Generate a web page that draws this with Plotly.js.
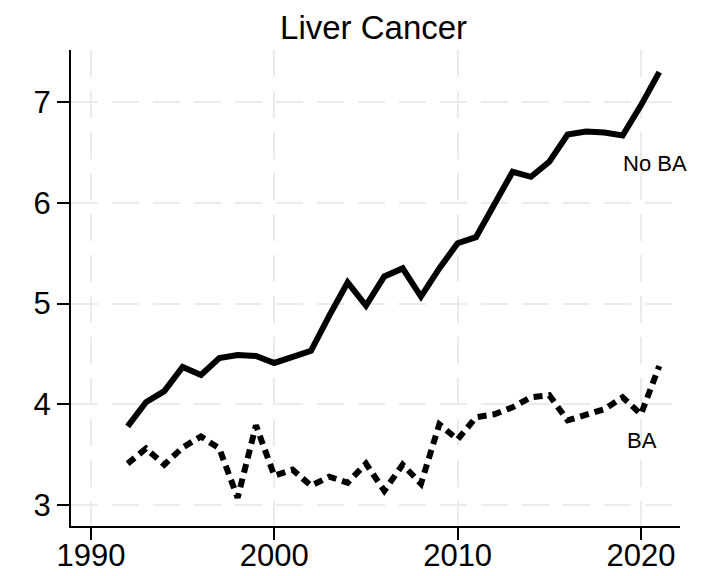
<!DOCTYPE html>
<html>
<head>
<meta charset="utf-8">
<script src="https://cdn.plot.ly/plotly-3.0.1.min.js"></script>
<style>html,body{margin:0;padding:0;background:#fff;}</style>
</head>
<body>
<div id="chart" style="width:724px;height:576px;"></div>
<script>
var years = [1992,1993,1994,1995,1996,1997,1998,1999,2000,2001,2002,2003,2004,2005,2006,2007,2008,2009,2010,2011,2012,2013,2014,2015,2016,2017,2018,2019,2020,2021];
var noBA = [3.78,4.02,4.13,4.37,4.29,4.46,4.49,4.48,4.41,4.47,4.53,4.88,5.21,4.98,5.27,5.35,5.07,5.35,5.60,5.66,5.98,6.31,6.26,6.41,6.68,6.71,6.70,6.67,6.97,7.30];
var ba = [3.41,3.56,3.40,3.57,3.68,3.56,3.07,3.79,3.29,3.35,3.19,3.28,3.22,3.41,3.14,3.40,3.21,3.80,3.65,3.87,3.90,3.97,4.07,4.09,3.84,3.89,3.95,4.07,3.90,4.38];
var xTicks = [1990,2000,2010,2020];
var yTicks = [3,4,5,6,7];
var labelNoBA = "No BA";
var labelBA = "BA";
var titleText = "Liver Cancer";

var fontFam = "Arial, 'Liberation Sans', sans-serif";
var traces = [
  {x: years, y: noBA, type: 'scatter', mode: 'lines', name: labelNoBA,
   line: {color: '#000', width: 6}},
  {x: years, y: ba, type: 'scatter', mode: 'lines', name: labelBA,
   line: {color: '#000', width: 6, dash: '9px,6px'}}
];
var axisCommon = {
  showline: true, linecolor: '#000', linewidth: 2,
  ticks: 'outside', ticklen: 12, tickwidth: 2, tickcolor: '#000',
  showgrid: true, gridcolor: '#ebebeb', gridwidth: 2, griddash: '27px,14px',
  zeroline: false, tickfont: {family: fontFam, size: 31, color: '#000'}
};
var layout = {
  width: 724, height: 576,
  margin: {l: 71, r: 44, t: 50, b: 50},
  paper_bgcolor: '#fff', plot_bgcolor: '#fff',
  showlegend: false,
  title: {text: titleText, font: {family: fontFam, size: 33, color: '#000'},
          x: 0.516, xanchor: 'center', y: 0.952, yanchor: 'middle'},
  xaxis: Object.assign({}, axisCommon, {range: [1988.91, 2022.13], tickvals: xTicks, ticktext: xTicks.map(String), ticklabelstandoff: -11}),
  yaxis: Object.assign({}, axisCommon, {range: [2.79, 7.52], tickvals: yTicks, ticktext: yTicks.map(String)}),
  annotations: [
    {x: years[years.length-1], y: noBA[noBA.length-1], xref: 'x', yref: 'y', text: labelNoBA, showarrow: false,
     xshift: -4, yshift: -91, font: {family: fontFam, size: 22, color: '#000'}},
    {x: years[years.length-2], y: ba[ba.length-2], xref: 'x', yref: 'y', text: labelBA, showarrow: false,
     xshift: 1, yshift: -26, font: {family: fontFam, size: 22, color: '#000'}}
  ]
};
Plotly.newPlot('chart', traces, layout, {displayModeBar: false, staticPlot: true});
</script>
</body>
</html>
